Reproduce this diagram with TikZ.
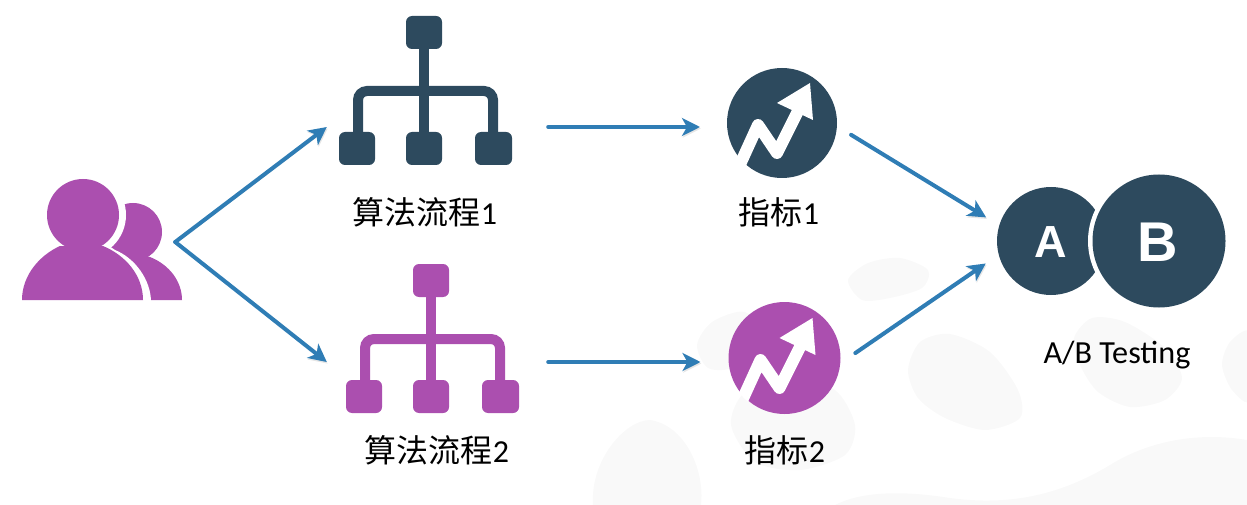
\documentclass[tikz,border=0pt]{standalone}
\usepackage{fontspec}
\setmainfont{Carlito}
\newfontfamily\cjk{Noto Sans CJK SC}
\newfontfamily\lab{Liberation Sans}
\usetikzlibrary{arrows.meta}
\definecolor{darkblue}{HTML}{2D4A5E}
\definecolor{plum}{HTML}{AB4FAF}
\definecolor{arrowblue}{HTML}{2F7DB5}
\definecolor{blob}{HTML}{F9F9F9}
\tikzset{
  flow/.style={draw=arrowblue,line width=4pt,-{Stealth[length=18pt,width=18pt,inset=5pt]},line cap=round,
    preaction={draw=black!45,opacity=.22,transform canvas={shift={(0.8pt,-1.6pt)}}}},
  caption/.style={font=\fontsize{32}{36}\selectfont,inner sep=0pt,text=black},
  anchorbox/.style={inner sep=0pt,minimum height=10pt},
  blobshape/.style={fill=blob,draw=none},
  dot/.style={circle,inner sep=0pt},
  letter/.style={text=white,inner sep=0pt,font=\lab\bfseries},
}
\newcommand{\treeicon}[3]{%
  \begin{scope}[shift={(#1,#2)}]
    \draw[#3,line width=10pt] (424,49) -- (424,132);
    \draw[#3,line width=10pt,rounded corners=9pt] (358,132) -- (358,91) -- (493,91) -- (493,132);
    \fill[#3,rounded corners=6pt] (406,16) rectangle (442,49);
    \fill[#3,rounded corners=6pt] (339,132) rectangle (375,165);
    \fill[#3,rounded corners=6pt] (406,132) rectangle (442,165);
    \fill[#3,rounded corners=6pt] (475,132) rectangle (512,165);
  \end{scope}}
\newcommand{\metricicon}[5]{% name, x, y, radius, colour
  \node[dot,fill=#5,minimum size=2*#4 pt,outer sep=71pt-#4pt] (#1) at (#2,#3) {};
  \begin{scope}[shift={(#2,#3)}]
    \clip (0,0) circle[radius=#4pt+1pt];
    \draw[white,line width=12pt,line join=round] (-50,59) -- (-24,2) -- (-5,30) -- (18,-16);
    \fill[white] (-5,-20) -- (28,-40) -- (31,-3) -- cycle;
  \end{scope}}
\begin{document}
\begin{tikzpicture}[x=1pt,y=-1pt]
\useasboundingbox (0,0) rectangle (1247,505);
% background
\fill[blobshape] plot[smooth cycle] coordinates {(848,280)(868,263)(900,258)(928,270)(922,288)(890,298)(862,300)};
\fill[blobshape] plot[smooth cycle] coordinates {(908,370)(920,342)(950,334)(990,352)(1018,390)(1020,418)(985,430)(945,418)(918,398)};
\fill[blobshape] plot[smooth cycle] coordinates {(1074,338)(1092,318)(1125,322)(1165,348)(1182,378)(1165,400)(1130,407)(1098,392)(1080,365)};
\fill[blobshape] plot[smooth cycle] coordinates {(1250,333)(1230,342)(1222,365)(1232,390)(1250,400)};
\fill[blobshape] plot[smooth cycle] coordinates {(731,425)(745,392)(790,378)(835,390)(855,425)(845,455)(800,470)(755,462)};
\fill[blobshape] plot[smooth cycle] coordinates {(697,345)(712,322)(745,312)(765,340)(735,367)(708,368)};
\fill[blobshape] (593,505) .. controls (590,460) and (625,420) .. (650,420) .. controls (685,425) and (705,470) .. (701,505) -- cycle;
\fill[blobshape] (835,505) .. controls (860,492) and (900,490) .. (950,498) .. controls (1010,506) and (1060,495) .. (1110,465) .. controls (1150,440) and (1200,432) .. (1247,440) -- (1247,505) -- cycle;
% users
\node[anchorbox,minimum width=153pt] (users) at (98.5,242) {};
\fill[plum] (133,232) circle[radius=29pt];
\fill[plum] (120,250) -- (150,257) .. controls (170,265) and (182,282) .. (182,300) -- (120,300) -- cycle;
\fill[white] (83,215) circle[radius=43pt];
\fill[white] (100,240) -- (115,250) .. controls (135,258) and (151,280) .. (151,302) -- (100,302) -- cycle;
\fill[plum] (83,215) circle[radius=36pt];
\fill[plum] (22,300) .. controls (22,275) and (40,255) .. (60,246) -- (103,246) .. controls (125,255) and (143,275) .. (143,300) -- cycle;
% trees
\treeicon{0}{0}{darkblue}
\treeicon{7}{248}{plum}
\node[anchorbox,minimum width=221pt] (t1) at (437.5,127) {};
\node[anchorbox,minimum width=221pt] (t2) at (437.5,362) {};
\node[caption] (c1) at (425,212) {{\cjk 算法流程}1};
\node[caption] (c2) at (437,450) {{\cjk 算法流程}2};
% metrics
\metricicon{m1}{782}{123}{55}{darkblue}
\metricicon{m2}{784.5}{358}{56}{plum}
\node[caption] (c3) at (779,212) {{\cjk 指标}1};
\node[caption] (c4) at (785,450) {{\cjk 指标}2};
% A/B
\node[dot,fill=darkblue,minimum size=108pt,outer sep=15pt] (a) at (1051,241) {};
\node[dot,fill=white,minimum size=142pt] (halo) at (1159,241) {};
\node[dot,fill=darkblue,minimum size=133pt] (b) at (1159,241) {};
\node[letter,font=\lab\bfseries\fontsize{45}{45}\selectfont] (la) at (1051,242) {A};
\node[letter,font=\lab\bfseries\fontsize{56}{56}\selectfont] (lb) at (1158,242) {B};
\node[caption,font=\fontsize{32.2}{36}\selectfont] (c5) at (1117,355) {A/B Testing};
% connectors
\draw[flow] (users.east) -- (t1.west);
\draw[flow] (users.east) -- (t2.west);
\draw[flow,shorten >=11pt] (t1.east) -- (m1.west |- t1.east);
\draw[flow,shorten >=13pt] (t2.east) -- (m2.west |- t2.east);
\draw[flow,shorten <=-1pt] (m1.-10) -- (a.160);
\draw[flow] (m2.4) -- (a.199);
\end{tikzpicture}
\end{document}
